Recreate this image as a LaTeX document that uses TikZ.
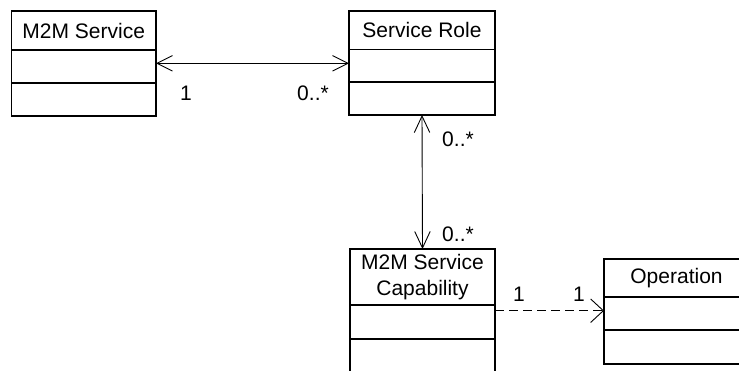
\documentclass[tikz,border=0pt]{standalone}
\usepackage{fontspec}
\setmainfont{Liberation Sans}
\usetikzlibrary{arrows.meta}
\begin{document}
\begin{tikzpicture}[x=1pt,y=-1pt,
  cls/.style={draw=black, line width=1.3pt, inner sep=0pt, outer sep=0pt,
    font=\fontsize{21}{26.5}\selectfont, align=center},
  mult/.style={inner sep=0pt, font=\fontsize{21}{25}\selectfont},
  conn/.style={draw=black, line width=0.9pt},
  barbH/.tip={Straight Barb[length=15.5pt, width=15.5pt, line width=0.9pt]},
  barbV/.tip={Straight Barb[length=16.5pt, width=15.5pt, line width=0.9pt]},
  barbD/.tip={Straight Barb[length=12.7pt, width=23.5pt, line width=0.9pt]}]
\useasboundingbox (0,0) rectangle (739,370);
\clip (0,0) rectangle (739,370);
% M2M Service
\node[cls, minimum width=144.5pt, minimum height=39pt, anchor=north west] (ms) at (11.5,11) {M2M Service};
\node[cls, minimum width=144.5pt, minimum height=33pt, anchor=north] (ms2) at (ms.south) {};
\node[cls, minimum width=144.5pt, minimum height=33pt, anchor=north] (ms3) at (ms2.south) {};
% Service Role
\node[cls, minimum width=146pt, minimum height=38.3pt, anchor=north west] (sr) at (349,11) {Service Role};
\node[cls, minimum width=146pt, minimum height=32.7pt, anchor=north] (sr2) at (sr.south) {};
\node[cls, minimum width=146pt, minimum height=33pt, anchor=north] (sr3) at (sr2.south) {};
% M2M Service Capability
\node[cls, minimum width=145pt, minimum height=56pt, anchor=north west] (cap) at (350,249) {M2M Service\\Capability};
\node[cls, minimum width=145pt, minimum height=34pt, anchor=north] (cap2) at (cap.south) {};
\node[cls, minimum width=145pt, minimum height=34pt, anchor=north] (cap3) at (cap2.south) {};
% Operation
\node[cls, minimum width=145pt, minimum height=38pt, anchor=north west] (op) at (604,259) {Operation};
\node[cls, minimum width=145pt, minimum height=33pt, anchor=north] (op2) at (op.south) {};
\node[cls, minimum width=145pt, minimum height=34pt, anchor=north] (op3) at (op2.south) {};
% connectors
\coordinate (h1) at ([yshift=3.2pt]ms2.east);
\draw[conn, barbH-barbH] (h1) -- (h1 -| sr2.west);
\draw[conn, barbV-barbV] (sr3.south) -- (cap.north);
\coordinate (d1) at ([yshift=11.3pt]cap2.east);
\draw[conn, dash pattern=on 8.5pt off 5.5pt, -barbD] (d1) -- (d1 -| op2.west);
% multiplicities
\node[mult] (m1) at (186,93) {1};
\node[mult] (m2) at (313,93) {0..*};
\node[mult] (m3) at (458,139) {0..*};
\node[mult] (m4) at (458,234) {0..*};
\node[mult] (m5) at (519,294) {1};
\node[mult] (m6) at (579,294) {1};
\end{tikzpicture}
\end{document}
